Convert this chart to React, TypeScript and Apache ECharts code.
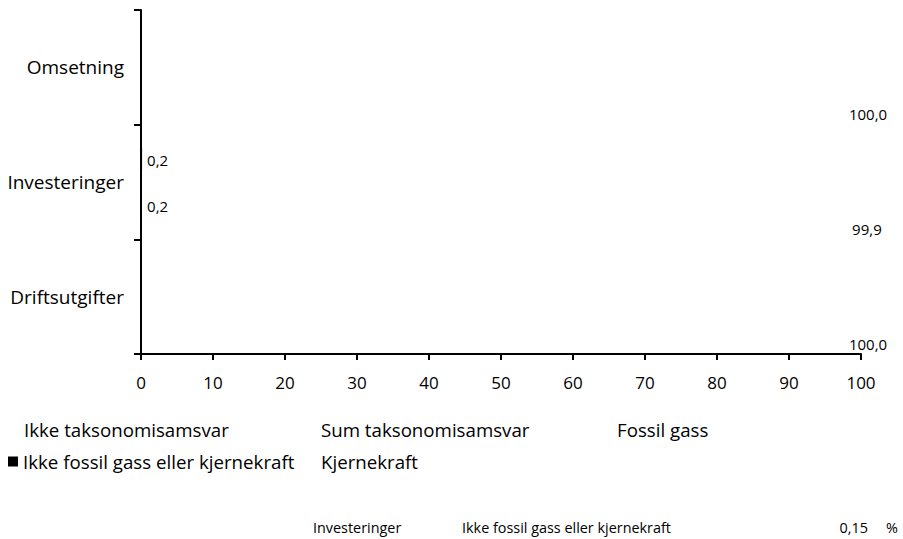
import React, { useEffect, useRef } from "react";
import * as echarts from "echarts";

const categories = ["Omsetning", "Investeringer", "Driftsutgifter"];
const seriesNames = [
  "Ikke taksonomisamsvar",
  "Sum taksonomisamsvar",
  "Fossil gass",
  "Ikke fossil gass eller kjernekraft",
  "Kjernekraft",
];
const ikkeTaksonomisamsvar = [100.0, 99.85, 100.0];
const sumTaksonomisamsvar = [0, 0.15, 0];
const fossilGass = [0, 0, 0];
const ikkeFossilGass = [0, 0.15, 0];
const kjernekraft = [0, 0, 0];
const xTicks = [0, 100, 10];

const seriesValues = [ikkeTaksonomisamsvar, sumTaksonomisamsvar, fossilGass, ikkeFossilGass, kjernekraft];
const seriesColors = ["rgba(0,0,0,0)", "rgba(0,0,0,0)", "rgba(0,0,0,0)", "#000000", "rgba(0,0,0,0)"];

const hoverCategory = 1;
const hoverSeries = 3;
const hoverUnit = "%";

const FONT = "'Open Sans', 'Noto Sans', sans-serif";

const fmt1 = (v: number) => (Math.round(v * 10 + 1e-9) / 10).toFixed(1).replace(".", ",");
const fmt2 = (v: number) => v.toFixed(2).replace(".", ",");

export default function App() {
  const ref = useRef<HTMLDivElement>(null);
  useEffect(() => {
    if (!ref.current) return;
    const chart = echarts.init(ref.current, null, { renderer: "svg" });
    const legendPos = [
      { left: 9, top: 420 },
      { left: 306, top: 420 },
      { left: 602, top: 420 },
      { left: 8, top: 452 },
      { left: 306, top: 452 },
    ];
    const series = seriesNames
      .map((name, i) => ({
        name,
        type: "bar",
        data: seriesValues[i],
        barGap: "0%",
        barCategoryGap: "0%",
        itemStyle: { color: seriesColors[i] },
        emphasis: { disabled: true },
        label: {
          show: true,
          position: "right",
          distance: i === 0 ? 7 : 5,
          align: i === 0 ? "center" : "left",
          color: "#000",
          fontFamily: FONT,
          fontSize: 15,
          offset: [0, 1],
          formatter: (p: any) => (p.value === 0 ? "" : fmt1(p.value)),
        },
      }))
      .reverse();
    chart.setOption({
      animation: false,
      textStyle: { fontFamily: FONT },
      grid: { left: 141, right: 42, top: 10, bottom: 185, containLabel: false },
      legend: seriesNames.map((name, i) => ({
        data: [name],
        left: legendPos[i].left,
        top: legendPos[i].top,
        padding: 0,
        icon: "rect",
        itemWidth: 10,
        itemHeight: 10,
        selectedMode: false,
        textStyle: { color: "#000", fontSize: 18.7, fontFamily: FONT },
      })),
      xAxis: {
        type: "value",
        min: xTicks[0],
        max: xTicks[1],
        interval: xTicks[2],
        splitLine: { show: false },
        axisLine: { show: true, lineStyle: { color: "#000", width: 2 } },
        axisTick: { show: true, length: 6, lineStyle: { color: "#000", width: 2 } },
        axisLabel: { color: "#000", fontSize: 17, margin: 20, fontFamily: FONT },
      },
      yAxis: {
        type: "category",
        data: categories,
        inverse: true,
        axisLine: { show: true, lineStyle: { color: "#000", width: 2 } },
        axisTick: { show: true, length: 7, lineStyle: { color: "#000", width: 2 } },
        axisLabel: { color: "#000", fontSize: 19, margin: 17, fontFamily: FONT },
      },
      series,
      graphic: [
        {
          type: "text",
          left: 313,
          top: 520,
          style: { text: categories[hoverCategory], fill: "#000", font: `14.4px ${FONT}` },
        },
        {
          type: "text",
          left: 462,
          top: 520,
          style: { text: seriesNames[hoverSeries], fill: "#000", font: `14.4px ${FONT}` },
        },
        {
          type: "text",
          right: 35,
          top: 520,
          style: { text: fmt2(seriesValues[hoverSeries][hoverCategory]), fill: "#000", font: `14.4px ${FONT}` },
        },
        {
          type: "text",
          right: 5,
          top: 520,
          style: { text: hoverUnit, fill: "#000", font: `14.4px ${FONT}` },
        },
      ],
    });
    return () => chart.dispose();
  }, []);
  return <div ref={ref} style={{ position: "absolute", left: 0, top: 0, width: 903, height: 539 }} />;
}
